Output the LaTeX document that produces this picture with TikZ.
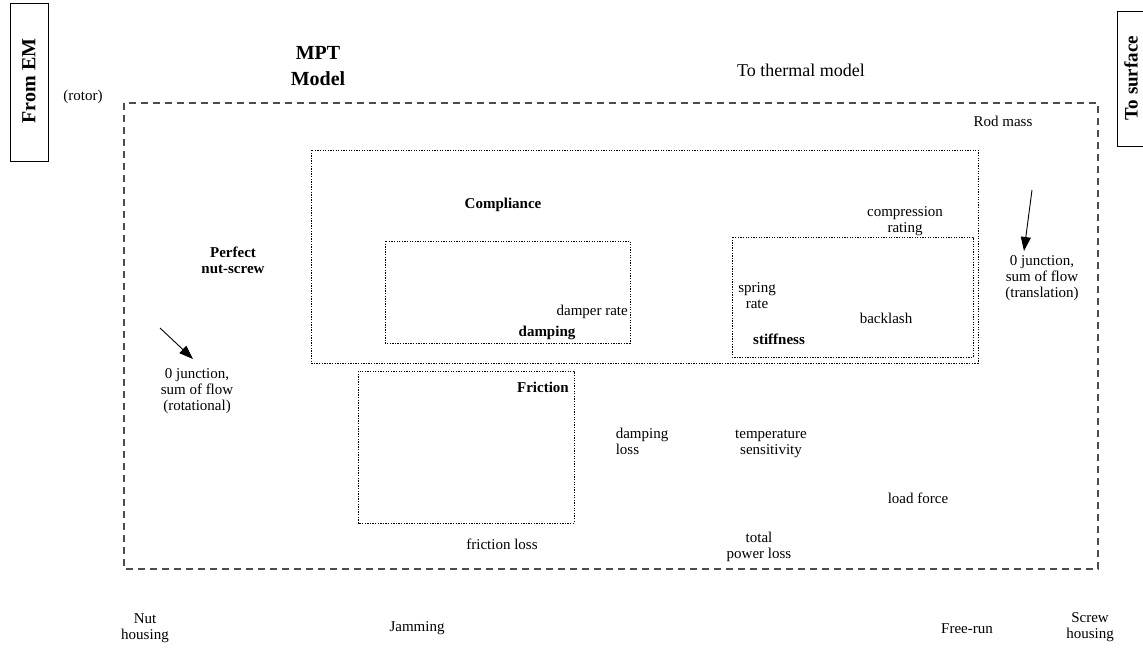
\documentclass[tikz,border=0pt]{standalone}
\usepackage{fontspec}
\setmainfont{Liberation Serif}
\usetikzlibrary{arrows.meta}
\tikzset{
  px/.style={x=1pt,y=-1pt},
  txt/.style={inner sep=0pt,align=center,font=\fontsize{15}{16}\selectfont},
  btxt/.style={inner sep=0pt,align=center,font=\fontsize{15}{16}\selectfont\bfseries},
  outerbox/.style={draw=black!70,line width=1.3pt,dash pattern=on 7pt off 5pt},
  dotbox/.style={draw=black,line width=0.9pt,dash pattern=on 1.3pt off 1.3pt},
  portbox/.style={draw=black,line width=0.9pt},
  flowarrow/.style={draw=black,line width=0.9pt,-{Triangle[length=14pt,width=10pt]}},
}
\begin{document}
\begin{tikzpicture}[px]
\useasboundingbox (0,0) rectangle (1143,649);
% side boxes
\draw[portbox] (10,3) rectangle (48,161);
\node[rotate=90,inner sep=0pt,font=\fontsize{20}{22}\selectfont\bfseries] (fromem) at (29,81) {From EM};
\draw[portbox] (1117,11) rectangle (1160,146);
\node[rotate=90,inner sep=0pt,font=\fontsize{19}{22}\selectfont\bfseries] (tosurf) at (1131,78) {To surface};
\node[txt] (rotor) at (83,97) {(rotor)};
% title
\node[inner sep=0pt,align=center,font=\fontsize{20}{26}\selectfont\bfseries] (title) at (318,66) {MPT\\Model};
\node[inner sep=0pt,font=\fontsize{18}{20}\selectfont] (thermal) at (801,70) {To thermal model};
% boxes
\draw[outerbox] (124,103) rectangle (1098,569);
\draw[dotbox] (311,150) rectangle (978,363);
\draw[dotbox] (385,241) rectangle (630,343);
\draw[dotbox] (732,237) rectangle (973,357);
\draw[dotbox] (358,371) rectangle (574,523);
% labels
\node[txt] (rod) at (1003,121) {Rod mass};
\node[btxt] (compl) at (503,205) {Compliance};
\node[txt] (comp) at (905,221) {compression\\rating};
\node[txt,anchor=east] (damprate) at (628,312) {damper rate};
\node[btxt] (damping) at (547,333) {damping};
\node[txt] (spring) at (757,296) {spring\\rate};
\node[btxt] (stiff) at (779,339) {stiffness};
\node[txt] (backlash) at (886,318) {backlash};
\node[btxt] (perfect) at (233,260) {Perfect\\nut-screw};
\node[txt] (j1) at (197,391) {0 junction,\\sum of flow\\(rotational)};
\node[txt] (j2) at (1042,278) {0 junction,\\sum of flow\\(translation)};
\node[btxt,anchor=east] (fric) at (569,387) {Friction};
\node[txt,align=left] (dloss) at (642,441) {damping\\ loss};
\node[txt] (temp) at (771,444) {temperature\\sensitivity};
\node[txt] (load) at (918,498) {load force};
\node[txt] (floss) at (502,544) {friction loss};
\node[txt] (tloss) at (759,547) {total\\power loss};
% bottom labels
\node[txt] (nut) at (145,628) {Nut\\housing};
\node[txt] (jam) at (417,628) {Jamming};
\node[txt] (free) at (967,629) {Free-run};
\node[txt] (screw) at (1090,627) {Screw\\housing};
% arrows
\coordinate (a1s) at (160,328);
\coordinate (a1e) at (193,359);
\coordinate (a2s) at (1032,190);
\coordinate (a2e) at (1024,251);
\draw[flowarrow] (a1s) -- (a1e);
\draw[flowarrow] (a2s) -- (a2e);
\end{tikzpicture}
\end{document}
